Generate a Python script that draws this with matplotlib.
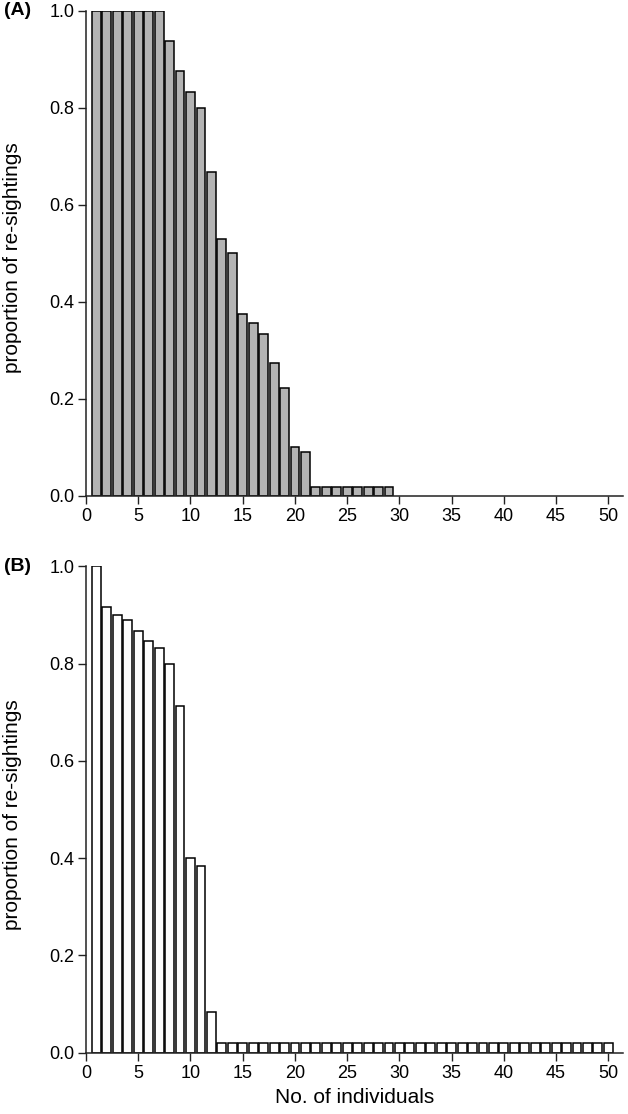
import matplotlib
matplotlib.use('Agg')
import matplotlib.pyplot as plt
import numpy as np

plt.rcParams['font.family'] = ['Liberation Sans', 'DejaVu Sans']

# panel A: individuals 1..29
props_a = [1.0, 1.0, 1.0, 1.0, 1.0, 1.0, 1.0, 0.938, 0.875, 0.833,
           0.8, 0.667, 0.529, 0.5, 0.375, 0.357, 0.333, 0.273, 0.222, 0.1,
           0.091, 0.019, 0.019, 0.019, 0.019, 0.019, 0.019, 0.019, 0.019]
# panel B: individuals 1..50
props_b = [1.0, 0.917, 0.9, 0.889, 0.867, 0.846, 0.833, 0.8, 0.714, 0.4,
           0.385, 0.083] + [0.019] * 38
x_ticks = [0, 5, 10, 15, 20, 25, 30, 35, 40, 45, 50]
y_ticks = [0.0, 0.2, 0.4, 0.6, 0.8, 1.0]

fig = plt.figure(figsize=(6.28, 11.14), dpi=100)
ax_a = fig.add_axes([0.137, 0.555, 0.855, 0.4355])
ax_b = fig.add_axes([0.137, 0.055, 0.855, 0.4365])

for ax, props, col, tag in [(ax_a, props_a, '#b4b4b4', '(A)'),
                            (ax_b, props_b, 'white', '(B)')]:
    xs = np.arange(1, len(props) + 1)
    ax.bar(xs, props, width=0.85, color=col, edgecolor='black', linewidth=1.1)
    ax.set_xlim(0, 51.4)
    ax.set_ylim(0, 1.0)
    ax.set_xticks(x_ticks)
    ax.set_yticks(y_ticks)
    ax.set_yticklabels(['%.1f' % v for v in y_ticks])
    for s in ['top', 'right']:
        ax.spines[s].set_visible(False)
    for s in ['left', 'bottom']:
        ax.spines[s].set_linewidth(1.1)
        ax.spines[s].set_color('#222222')
    ax.tick_params(axis='both', length=5.5, width=1.0, labelsize=13,
                   color='#222222', pad=3)
    ax.set_ylabel('proportion of re-sightings', fontsize=15)
    ax.yaxis.set_label_coords(-0.12, 0.49)
    ax.text(-0.153, 1.0, tag, transform=ax.transAxes, fontsize=14,
            fontweight='bold', ha='left', va='center')

ax_b.set_xlabel('No. of individuals', fontsize=15, labelpad=5)

fig.savefig('out.png', dpi=100)
